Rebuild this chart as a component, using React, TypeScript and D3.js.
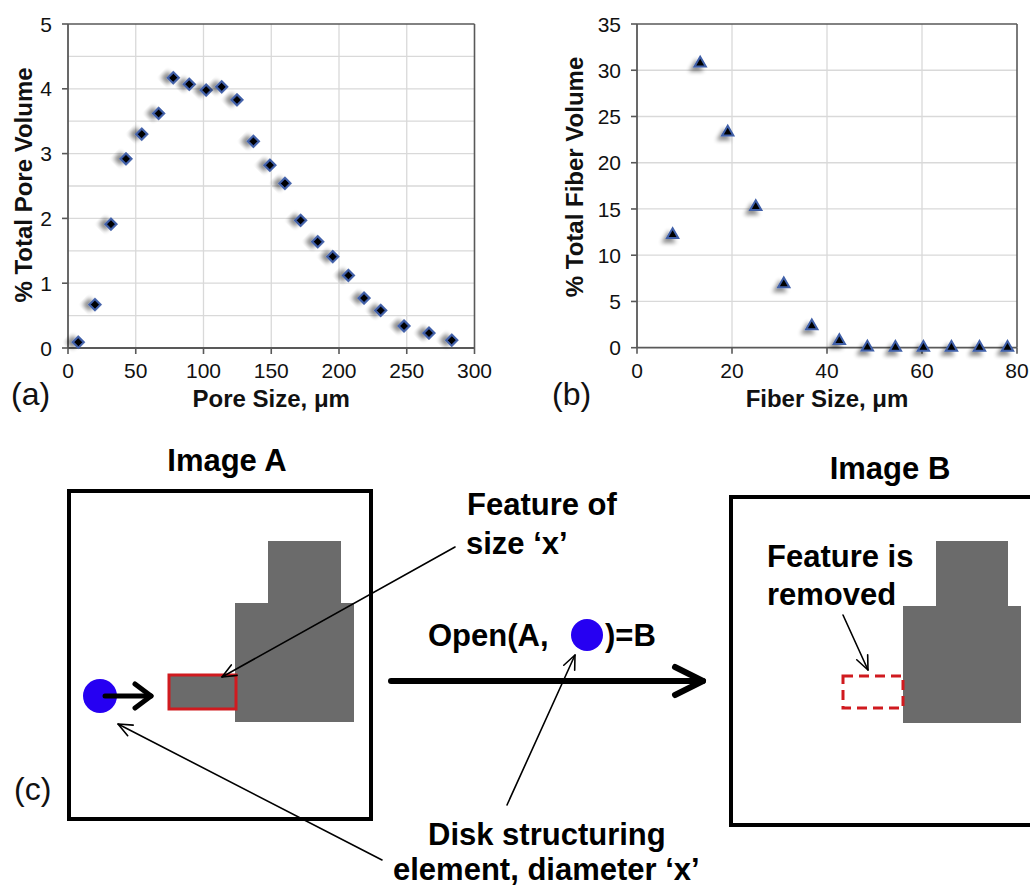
import React from 'react';
import * as d3 from 'd3';

// ---------- Data ----------
const poreSize = [7.6, 19.9, 31.7, 42.8, 54.4, 66.9, 77.7, 89.5, 102, 113.4, 124.7, 136.8, 149, 160.1, 171.7, 184.3, 195.4, 206.9, 218.5, 230.8, 248, 266.4, 283.2];
const poreVolume = [0.09, 0.67, 1.91, 2.92, 3.30, 3.62, 4.17, 4.07, 3.98, 4.03, 3.83, 3.19, 2.82, 2.54, 1.97, 1.64, 1.41, 1.12, 0.77, 0.58, 0.34, 0.23, 0.12];
const poreXTicks = [0, 50, 100, 150, 200, 250, 300];
const poreYTicks = [0, 1, 2, 3, 4, 5];
const poreYGrid = [0.5, 1, 1.5, 2, 2.5, 3, 3.5, 4, 4.5];

const fiberSize = [7.5, 13.3, 19.1, 25.0, 30.9, 36.8, 42.6, 48.5, 54.4, 60.3, 66.2, 72.1, 78.0];
const fiberVolume = [12.2, 30.75, 23.3, 15.25, 6.9, 2.35, 0.76, 0.05, 0.02, 0.02, 0.02, 0.02, 0.02];
const fiberXTicks = [0, 20, 40, 60, 80];
const fiberYTicks = [0, 5, 10, 15, 20, 25, 30, 35];
const fiberYGrid = [5, 10, 15, 20, 25, 30];

const FONT = "'Liberation Sans', Arial, Helvetica, sans-serif";
const AXIS = '#595959';
const GRID = '#d9d9d9';
const MARK_FILL = '#000000';
const MARK_STROKE = '#3f5fa8';
const GRAY = '#6b6b6b';
const RED = '#d01a1f';
const BLUE = '#2600f2';

type PanelProps = {
  left: number; right: number; top: number; bottom: number;
  xDomain: [number, number]; yDomain: [number, number];
  xs: number[]; ys: number[];
  xTicks: number[]; yTicks: number[]; yGrid: number[];
  symbol: d3.SymbolType; symSize: number; rot: number;
  xTitle: string; yTitle: string; yTitleX: number; yTitleY: number;
  panel: string; panelX: number;
};

function Panel(p: PanelProps) {
  const x = d3.scaleLinear().domain(p.xDomain).range([p.left, p.right]);
  const y = d3.scaleLinear().domain(p.yDomain).range([p.bottom, p.top]);
  const sym = d3.symbol().type(p.symbol).size(p.symSize)() as string;
  const xGrid = p.xTicks.filter((t) => t !== p.xDomain[0] && t !== p.xDomain[1]);
  return (
    <g>
      {p.yGrid.map((t) => (
        <line key={'yg' + t} x1={p.left} x2={p.right} y1={y(t)} y2={y(t)} stroke={GRID} strokeWidth={1.3} />
      ))}
      {xGrid.map((t) => (
        <line key={'xg' + t} x1={x(t)} x2={x(t)} y1={p.top} y2={p.bottom} stroke={GRID} strokeWidth={1.3} />
      ))}
      <line x1={p.left} x2={p.right} y1={p.top} y2={p.top} stroke={AXIS} strokeWidth={1.6} />
      <line x1={p.right} x2={p.right} y1={p.top} y2={p.bottom} stroke={AXIS} strokeWidth={1.6} />
      <line x1={p.left} x2={p.left} y1={p.top} y2={p.bottom} stroke={AXIS} strokeWidth={1.8} />
      <line x1={p.left} x2={p.right} y1={p.bottom} y2={p.bottom} stroke={AXIS} strokeWidth={1.8} />
      {p.yTicks.map((t) => (
        <g key={'yt' + t}>
          <line x1={p.left - 6} x2={p.left} y1={y(t)} y2={y(t)} stroke={AXIS} strokeWidth={1.6} />
          <text x={p.left - 16} y={y(t)} dy="0.36em" textAnchor="end" fontSize={21} fontFamily={FONT} fill="#111">{t}</text>
        </g>
      ))}
      {p.xTicks.map((t) => (
        <g key={'xt' + t}>
          <line x1={x(t)} x2={x(t)} y1={p.bottom} y2={p.bottom + 6} stroke={AXIS} strokeWidth={1.6} />
          <text x={x(t)} y={p.bottom + 30} textAnchor="middle" fontSize={21} fontFamily={FONT} fill="#111">{t}</text>
        </g>
      ))}
      {p.xs.map((v, i) => (
        <path key={'m' + i} d={sym} transform={`translate(${x(v)},${y(p.ys[i])}) rotate(${p.rot})`}
          fill={MARK_FILL} stroke={MARK_STROKE} strokeWidth={2} filter="url(#shadow)" />
      ))}
      <text x={(p.left + p.right) / 2} y={p.bottom + 59} textAnchor="middle" fontSize={24} fontWeight="bold" fontFamily={FONT} fill="#111">{p.xTitle}</text>
      <text transform={`translate(${p.yTitleX},${p.yTitleY}) rotate(-90)`} textAnchor="middle" fontSize={24} fontWeight="bold" fontFamily={FONT} fill="#111">{p.yTitle}</text>
      <text x={p.panelX} y={405} fontSize={32} fontFamily={FONT} fill="#111">{p.panel}</text>
    </g>
  );
}

function Arrow({ x1, y1, x2, y2, w, head, spread }: { x1: number; y1: number; x2: number; y2: number; w: number; head: number; spread: number }) {
  const a = Math.atan2(y2 - y1, x2 - x1);
  const hx1 = x2 - head * Math.cos(a) + spread * Math.sin(a);
  const hy1 = y2 - head * Math.sin(a) - spread * Math.cos(a);
  const hx2 = x2 - head * Math.cos(a) - spread * Math.sin(a);
  const hy2 = y2 - head * Math.sin(a) + spread * Math.cos(a);
  return (
    <g stroke="#000" fill="none" strokeLinecap="round" strokeLinejoin="round">
      <line x1={x1} y1={y1} x2={x2} y2={y2} strokeWidth={w} />
      <path d={`M${hx1},${hy1} L${x2},${y2} L${hx2},${hy2}`} strokeWidth={w} />
    </g>
  );
}

function Diagram() {
  const tf = { fontFamily: FONT, fontWeight: 'bold' as const, fontSize: 31, fill: '#000' };
  return (
    <g>
      {/* Image A */}
      <text x={227} y={471} textAnchor="middle" {...tf}>Image A</text>
      <rect x={69} y={491} width={302} height={328} fill="none" stroke="#000" strokeWidth={4} />
      <rect x={268} y={541} width={73} height={64} fill={GRAY} />
      <rect x={235} y={603} width={119} height={119} fill={GRAY} />
      <rect x={169} y={675} width={67} height={34} fill={GRAY} stroke={RED} strokeWidth={3} />
      <circle cx={100} cy={696} r={17} fill={BLUE} />
      <Arrow x1={105} y1={696} x2={151} y2={696} w={5} head={16} spread={12} />
      <text x={14} y={800} fontFamily={FONT} fontSize={32} fill="#111">(c)</text>

      {/* annotations */}
      <text x={467} y={515} {...tf}>Feature of</text>
      <text x={466} y={554} {...tf}>size ‘x’</text>
      <Arrow x1={455} y1={547} x2={222} y2={677} w={1.6} head={14} spread={6} />

      <text x={428} y={646} {...tf}>Open(A,</text>
      <circle cx={587} cy={635} r={16} fill={BLUE} />
      <text x={605} y={646} {...tf}>)=B</text>
      <Arrow x1={391} y1={681} x2={703} y2={681} w={6} head={28} spread={14} />

      <Arrow x1={507} y1={805} x2={575} y2={655} w={1.6} head={14} spread={6} />
      <text x={428} y={845} {...tf}>Disk structuring</text>
      <text x={393} y={880} {...tf}>element, diameter ‘x’</text>
      <Arrow x1={382} y1={860} x2={118} y2={724} w={1.6} head={14} spread={6} />

      {/* Image B */}
      <text x={890} y={479} textAnchor="middle" {...tf}>Image B</text>
      <rect x={731} y={497} width={330} height={328} fill="none" stroke="#000" strokeWidth={4} />
      <rect x={936} y={541} width={72} height={66} fill={GRAY} />
      <rect x={903} y={606} width={118} height={117} fill={GRAY} />
      <rect x={843} y={676} width={60} height={32} fill="none" stroke={RED} strokeWidth={3} strokeDasharray="10,6" />
      <text x={767} y={567} {...tf}>Feature is</text>
      <text x={767} y={605} {...tf}>removed</text>
      <Arrow x1={843} y1={615} x2={868} y2={670} w={1.6} head={14} spread={6} />
    </g>
  );
}

export default function App() {
  return (
    <svg width={1030} height={887} style={{ position: 'absolute', left: 0, top: 0, background: '#fff' }}>
      <defs>
        <filter id="shadow" x="-100%" y="-100%" width="300%" height="300%">
          <feGaussianBlur in="SourceAlpha" stdDeviation={2.2} />
          <feOffset dx={-4} dy={4} result="b" />
          <feComponentTransfer><feFuncA type="linear" slope={0.45} /></feComponentTransfer>
          <feMerge>
            <feMergeNode />
            <feMergeNode in="SourceGraphic" />
          </feMerge>
        </filter>
      </defs>
      <rect x={0} y={0} width={1030} height={887} fill="#fff" />
      <Panel left={68} right={474.5} top={24} bottom={348} xDomain={[0, 300]} yDomain={[0, 5]}
        xs={poreSize} ys={poreVolume} xTicks={poreXTicks} yTicks={poreYTicks} yGrid={poreYGrid}
        symbol={d3.symbolSquare} symSize={62} rot={45}
        xTitle="Pore Size, μm" yTitle="% Total Pore Volume" yTitleX={32} yTitleY={185}
        panel="(a)" panelX={11} />
      <Panel left={637} right={1017} top={24} bottom={347.7} xDomain={[0, 80]} yDomain={[0, 35]}
        xs={fiberSize} ys={fiberVolume} xTicks={fiberXTicks} yTicks={fiberYTicks} yGrid={fiberYGrid}
        symbol={d3.symbolTriangle} symSize={55} rot={0}
        xTitle="Fiber Size, μm" yTitle="% Total Fiber Volume" yTitleX={583} yTitleY={177}
        panel="(b)" panelX={552} />
      <Diagram />
    </svg>
  );
}
